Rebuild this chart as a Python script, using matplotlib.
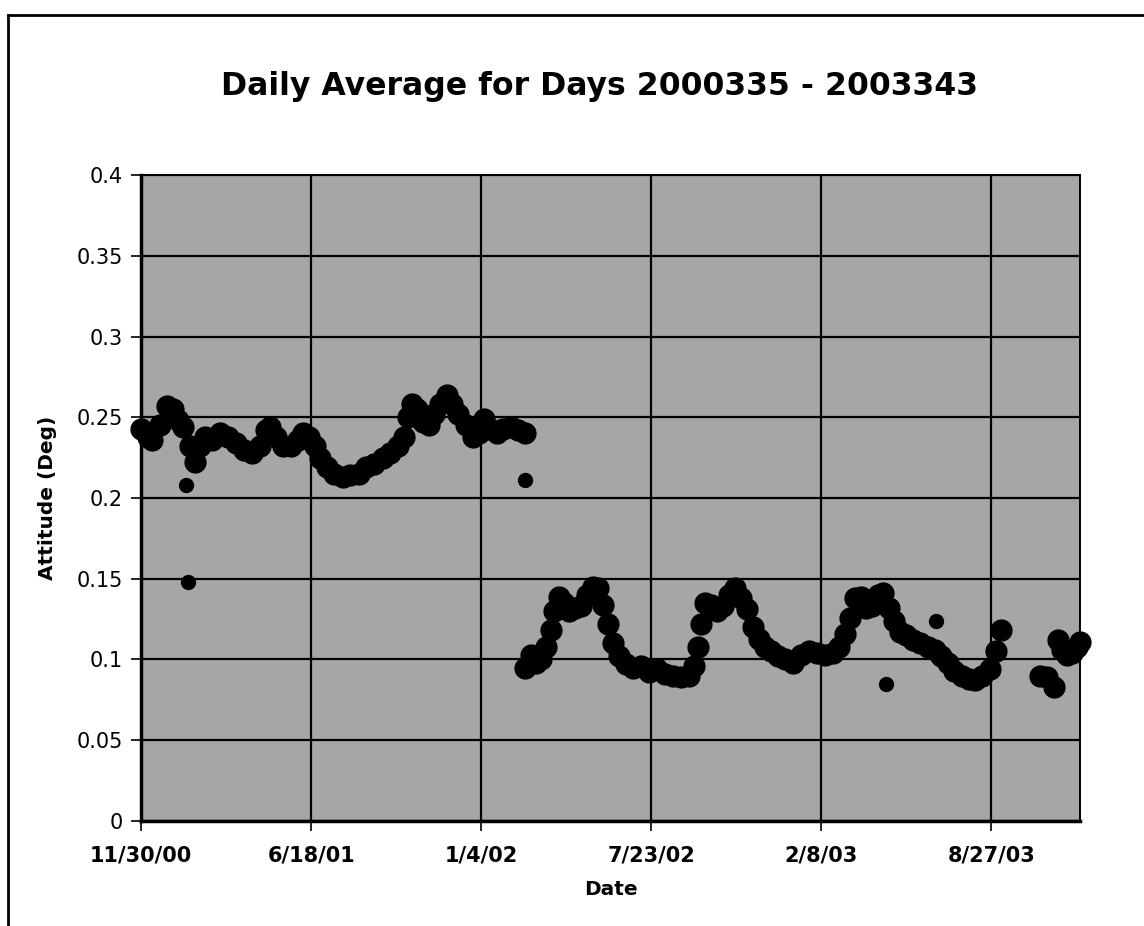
#!/usr/bin/env python3

import matplotlib
matplotlib.use('Agg')
import matplotlib.pyplot as plt
import matplotlib.dates as mdates
import numpy as np
import pandas as pd

start = pd.Timestamp('2000-11-30')

# days after 11/30/00 and daily average attitude (deg)
days = [0, 8, 13, 22, 31, 37, 44, 49, 58, 64, 69, 75, 84, 93, 102, 112, 121,
        131, 140, 147, 152, 159, 167, 176, 184, 191, 197, 204, 211, 219, 227,
        237, 246, 256, 265, 274, 284, 293, 302, 309, 314, 319, 325, 331, 338,
        345, 352, 360, 366, 373, 382, 390, 397, 403, 410, 418, 426, 435, 443,
        451,
        452, 458, 464, 470, 476, 482, 486, 491, 497, 503, 510, 517, 524, 531,
        537, 543, 549, 555, 562, 570, 578, 588, 597, 607, 616, 625, 635, 644,
        650, 655, 658, 663, 670, 677, 684, 691, 698, 706, 713, 720, 727, 734,
        741, 749, 757, 767, 776, 786, 795, 804, 814, 821, 828, 834, 840, 846,
        853, 860, 867, 873, 879, 885, 892, 900, 908, 916, 925, 933, 941, 949,
        956, 965, 973, 981, 989, 998, 1005, 1011,
        1057, 1065, 1073, 1078, 1083, 1089, 1095, 1100, 1104]
attitude = [0.243, 0.238, 0.236, 0.245, 0.257, 0.255, 0.248, 0.244, 0.232,
            0.222, 0.232, 0.238, 0.236, 0.240, 0.238, 0.234, 0.230, 0.228,
            0.232, 0.242, 0.244, 0.238, 0.232, 0.232, 0.236, 0.240, 0.238,
            0.232, 0.225, 0.219, 0.215, 0.213, 0.214, 0.215, 0.219, 0.221,
            0.225, 0.228, 0.232, 0.238, 0.250, 0.258, 0.255, 0.247, 0.245,
            0.252, 0.258, 0.264, 0.258, 0.252, 0.245, 0.238, 0.240, 0.249,
            0.243, 0.240, 0.243, 0.244, 0.242, 0.240,
            0.095, 0.103, 0.098, 0.100, 0.108, 0.118, 0.130, 0.139, 0.135,
            0.130, 0.132, 0.133, 0.140, 0.145, 0.144, 0.134, 0.122, 0.110,
            0.102, 0.097, 0.095, 0.096, 0.092, 0.094, 0.091, 0.090, 0.089,
            0.090, 0.096, 0.108, 0.122, 0.135, 0.134, 0.130, 0.133, 0.140,
            0.144, 0.138, 0.131, 0.120, 0.113, 0.108, 0.105, 0.102, 0.100,
            0.098, 0.103, 0.105, 0.104, 0.103, 0.104, 0.108, 0.116, 0.126,
            0.138, 0.139, 0.132, 0.133, 0.140, 0.141, 0.132, 0.124, 0.117,
            0.115, 0.112, 0.110, 0.108, 0.106, 0.102, 0.098, 0.093, 0.090,
            0.088, 0.087, 0.090, 0.094, 0.105, 0.118,
            0.090, 0.089, 0.083, 0.112, 0.106, 0.103, 0.104, 0.108, 0.111]

# stray points
outlier_days = [53, 55, 452, 876, 935]
outlier_vals = [0.208, 0.148, 0.211, 0.085, 0.124]

tick_labels = ['11/30/00', '6/18/01', '1/4/02', '7/23/02', '2/8/03', '8/27/03']
end_day = 1104

dates = start + pd.to_timedelta(days, unit='D')
odates = start + pd.to_timedelta(outlier_days, unit='D')
tick_dates = [pd.to_datetime(t, format='%m/%d/%y') for t in tick_labels]

fig = plt.figure(figsize=(11.44, 9.26), dpi=100)
ax = fig.add_axes([0.1233, 0.1134, 0.8207, 0.6976])
ax.set_facecolor('#a6a6a6')

ax.plot(dates, attitude, 'o', color='black', markersize=15, clip_on=False, zorder=3)
ax.plot(odates, outlier_vals, 'o', color='black', markersize=10, clip_on=False, zorder=3)

ax.set_xlim(start, start + pd.Timedelta(days=end_day))
ax.set_ylim(0, 0.4)
ax.set_yticks(np.arange(0, 0.41, 0.05))
ax.set_yticklabels(['0', '0.05', '0.1', '0.15', '0.2', '0.25', '0.3', '0.35', '0.4'])
ax.set_xticks([mdates.date2num(d) for d in tick_dates])
ax.set_xticklabels(tick_labels, fontweight='bold', fontsize=15)
ax.tick_params(axis='both', direction='out', length=7, width=1.2, colors='black')
ax.tick_params(axis='y', labelsize=15, pad=6)
ax.tick_params(axis='x', pad=11)

ax.grid(True, color='black', linewidth=1.6)
ax.set_axisbelow(True)
for s in ['top', 'right']:
    ax.spines[s].set_linewidth(1.4)
for s in ['left', 'bottom']:
    ax.spines[s].set_linewidth(2.5)

ax.set_xlabel('Date', fontsize=14.5, fontweight='bold', labelpad=10)
ax.set_ylabel('Attitude (Deg)', fontsize=14.5, fontweight='bold', labelpad=14)
fig.text(0.524, 0.907, 'Daily Average for Days 2000335 - 2003343', ha='center', va='center',
         fontsize=22.7, fontweight='bold')

# frame of the chart area
fig.add_artist(plt.Line2D([8/1144, 8/1144], [0, 1 - 15/926], color='black', linewidth=2))
fig.add_artist(plt.Line2D([8/1144, 1], [1 - 15/926, 1 - 15/926], color='black', linewidth=2))

fig.savefig('out.png', dpi=100)
